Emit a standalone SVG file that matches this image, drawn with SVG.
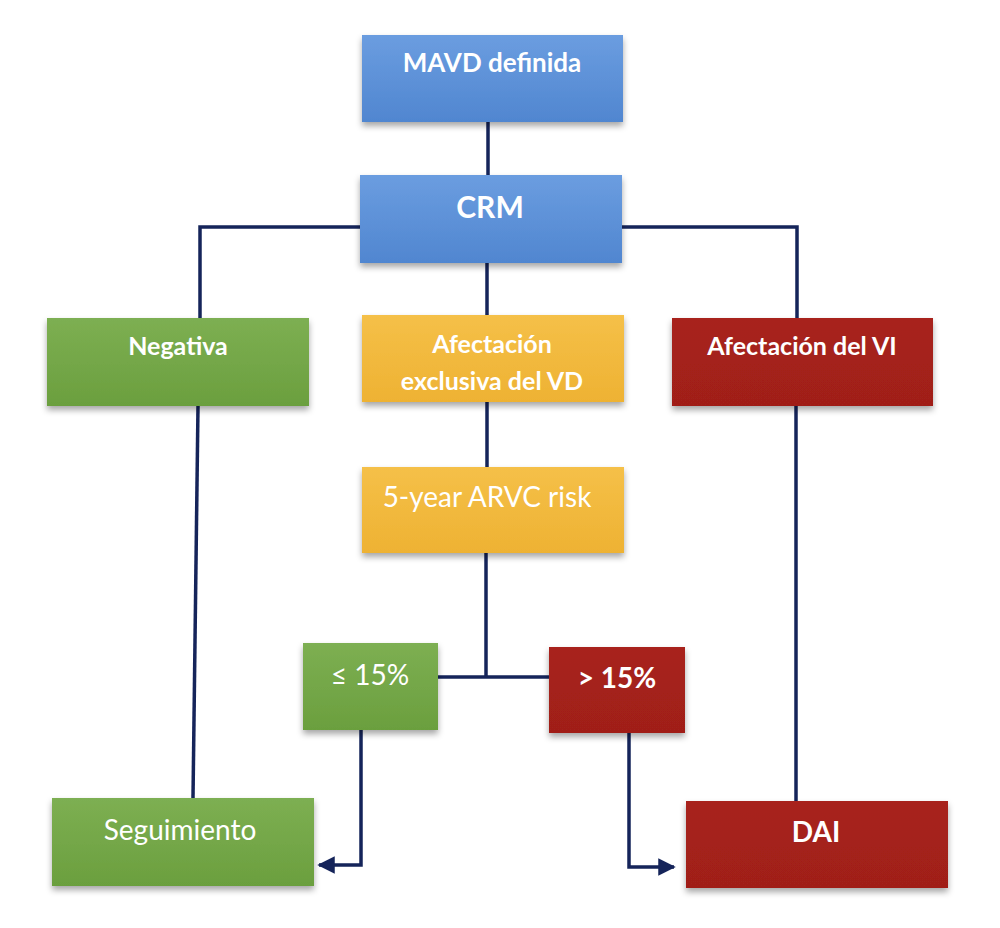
<svg xmlns="http://www.w3.org/2000/svg" width="1000" height="928" viewBox="0 0 1000 928">
<style>
.t{font-family:Lato,"Open Sans","Liberation Sans",sans-serif;fill:#fff;text-anchor:middle}
.b{font-weight:bold}
.line{fill:none;stroke:#15245a;stroke-width:3.5}
</style>
<defs>
<linearGradient id="gBlue" x1="0" y1="0" x2="0" y2="1"><stop offset="0" stop-color="#6b9de0"/><stop offset="1" stop-color="#5086d0"/></linearGradient>
<linearGradient id="gGreen" x1="0" y1="0" x2="0" y2="1"><stop offset="0" stop-color="#7daf52"/><stop offset="1" stop-color="#6b9f3e"/></linearGradient>
<linearGradient id="gRed" x1="0" y1="0" x2="0" y2="1"><stop offset="0" stop-color="#a8221b"/><stop offset="1" stop-color="#a01f19"/></linearGradient>
<linearGradient id="gYellow" x1="0" y1="0" x2="0" y2="1"><stop offset="0" stop-color="#f5c048"/><stop offset="1" stop-color="#eeb233"/></linearGradient>
<filter id="sh" x="-10%" y="-10%" width="120%" height="135%"><feDropShadow dx="0" dy="4" stdDeviation="3" flood-color="#000" flood-opacity="0.35"/></filter>
<marker id="arr" viewBox="0 0 10 10" refX="9" refY="5" markerWidth="5" markerHeight="5" orient="auto" markerUnits="strokeWidth"><path d="M0,0 L10,5 L0,10 Z" fill="#15245a"/></marker>
</defs>
<g id="connectors">
<path class="line" d="M488,122 V175"/>
<path class="line" d="M360,227 H200 V318"/>
<path class="line" d="M622,227 H797 V318"/>
<path class="line" d="M487,263 V315"/>
<path class="line" d="M487,402 V467"/>
<path class="line" d="M486,553 V677"/>
<path class="line" d="M438,677 H549"/>
<path class="line" d="M198,406 L193,798"/>
<path class="line" d="M796,406 V801"/>
<path class="line" d="M361,730 V865 H319" marker-end="url(#arr)"/>
<path class="line" d="M629,733 V867 H674" marker-end="url(#arr)"/>
</g>
<g id="mavd"><rect x="362" y="35" width="261" height="87" fill="url(#gBlue)" filter="url(#sh)"/><text class="t b" x="492" y="72" font-size="26">MAVD definida</text></g>
<g id="crm"><rect x="360" y="175" width="262" height="88" fill="url(#gBlue)" filter="url(#sh)"/><text class="t b" x="490" y="218" font-size="30">CRM</text></g>
<g id="negativa"><rect x="47" y="318" width="262" height="88" fill="url(#gGreen)" filter="url(#sh)"/><text class="t b" x="178" y="355" font-size="25">Negativa</text></g>
<g id="afect-vd"><rect x="362" y="315" width="262" height="87" fill="url(#gYellow)" filter="url(#sh)"/><text class="t b" x="492" y="353" font-size="25">Afectación</text><text class="t b" x="492" y="390" font-size="25">exclusiva del VD</text></g>
<g id="afect-vi"><rect x="672" y="318" width="261" height="88" fill="url(#gRed)" filter="url(#sh)"/><text class="t b" x="802" y="355" font-size="25">Afectación del VI</text></g>
<g id="risk"><rect x="362" y="467" width="262" height="86" fill="url(#gYellow)" filter="url(#sh)"/><text class="t" x="487" y="507" font-size="28">5-year ARVC risk</text></g>
<g id="le15"><rect x="303" y="643" width="135" height="87" fill="url(#gGreen)" filter="url(#sh)"/><text class="t" x="370" y="685" font-size="28">≤ 15%</text></g>
<g id="gt15"><rect x="549" y="647" width="136" height="86" fill="url(#gRed)" filter="url(#sh)"/><text class="t b" x="617" y="688" font-size="28">&gt; 15%</text></g>
<g id="seguimiento"><rect x="52" y="798" width="262" height="88" fill="url(#gGreen)" filter="url(#sh)"/><text class="t" x="180" y="840" font-size="28">Seguimiento</text></g>
<g id="dai"><rect x="686" y="801" width="262" height="87" fill="url(#gRed)" filter="url(#sh)"/><text class="t b" x="816" y="842" font-size="28">DAI</text></g>
</svg>
